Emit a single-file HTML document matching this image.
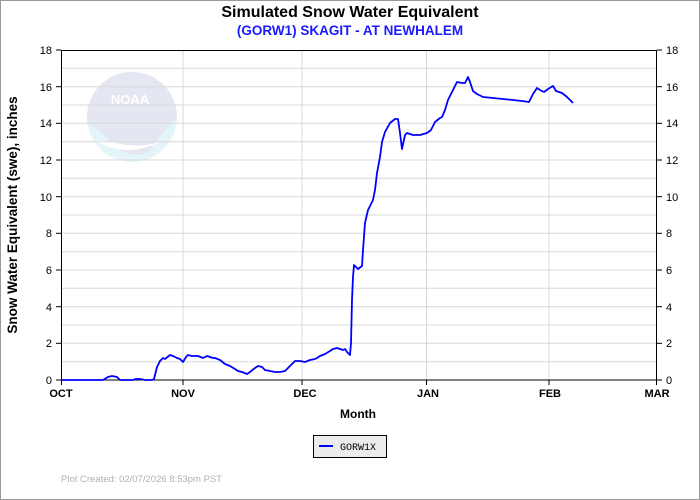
<!DOCTYPE html>
<html><head><style>
body{margin:0;background:#fff;}
svg{display:block;font-family:"Liberation Sans",Arial,sans-serif;}
</style></head><body>
<svg width="700" height="500" viewBox="0 0 700 500">
<rect x="0" y="0" width="700" height="500" fill="#fff"/>
<rect x="0.5" y="0.5" width="699" height="499" fill="none" stroke="#999"/>
<text x="350" y="17" text-anchor="middle" font-size="16" font-weight="bold" fill="#000">Simulated Snow Water Equivalent</text>
<text x="350" y="35" text-anchor="middle" font-size="13.5" font-weight="bold" fill="#1a1aff">(GORW1) SKAGIT - AT NEWHALEM</text>
<!-- logo -->
<clipPath id="c"><circle cx="132" cy="117" r="45"/></clipPath>
<g clip-path="url(#c)">
<rect x="80" y="70" width="110" height="100" fill="#e4f5fa"/>
<path d="M80,70 H190 V110 Q170,120 150,150 Q140,160 120,150 Q100,130 80,118 Z" fill="#e4e6f1"/>
<path d="M95,140 Q125,160 165,140 Q140,150 112,142 Z" fill="#fff"/>
</g>
<text x="130" y="104" text-anchor="middle" font-size="13" font-weight="bold" fill="#fff">NOAA</text>
<!-- grid -->
<g stroke="#d8d8d8" stroke-width="1">
<line x1="61" x2="657" y1="361.7" y2="361.7"/><line x1="61" x2="657" y1="343.3" y2="343.3"/><line x1="61" x2="657" y1="325" y2="325"/><line x1="61" x2="657" y1="306.7" y2="306.7"/><line x1="61" x2="657" y1="288.3" y2="288.3"/><line x1="61" x2="657" y1="270" y2="270"/><line x1="61" x2="657" y1="251.7" y2="251.7"/><line x1="61" x2="657" y1="233.3" y2="233.3"/><line x1="61" x2="657" y1="215" y2="215"/><line x1="61" x2="657" y1="196.7" y2="196.7"/><line x1="61" x2="657" y1="178.3" y2="178.3"/><line x1="61" x2="657" y1="160" y2="160"/><line x1="61" x2="657" y1="141.7" y2="141.7"/><line x1="61" x2="657" y1="123.3" y2="123.3"/><line x1="61" x2="657" y1="105" y2="105"/><line x1="61" x2="657" y1="86.7" y2="86.7"/><line x1="61" x2="657" y1="68.3" y2="68.3"/>
<line x1="183" x2="183" y1="50" y2="380"/><line x1="302" x2="302" y1="50" y2="380"/><line x1="426.5" x2="426.5" y1="50" y2="380"/><line x1="549" x2="549" y1="50" y2="380"/>
</g>
<rect x="61.5" y="50.5" width="595" height="329.5" fill="none" stroke="#000"/>
<!-- ticks -->
<g stroke="#000">
<line x1="56" x2="61" y1="380" y2="380"/><line x1="56" x2="61" y1="343.3" y2="343.3"/><line x1="56" x2="61" y1="306.7" y2="306.7"/><line x1="56" x2="61" y1="270" y2="270"/><line x1="56" x2="61" y1="233.3" y2="233.3"/><line x1="56" x2="61" y1="196.7" y2="196.7"/><line x1="56" x2="61" y1="160" y2="160"/><line x1="56" x2="61" y1="123.3" y2="123.3"/><line x1="56" x2="61" y1="86.7" y2="86.7"/><line x1="56" x2="61" y1="50" y2="50"/>
<line x1="657" x2="662" y1="380" y2="380"/><line x1="657" x2="662" y1="343.3" y2="343.3"/><line x1="657" x2="662" y1="306.7" y2="306.7"/><line x1="657" x2="662" y1="270" y2="270"/><line x1="657" x2="662" y1="233.3" y2="233.3"/><line x1="657" x2="662" y1="196.7" y2="196.7"/><line x1="657" x2="662" y1="160" y2="160"/><line x1="657" x2="662" y1="123.3" y2="123.3"/><line x1="657" x2="662" y1="86.7" y2="86.7"/><line x1="657" x2="662" y1="50" y2="50"/>
<line x1="61.5" x2="61.5" y1="380" y2="385"/><line x1="183" x2="183" y1="380" y2="385"/><line x1="302" x2="302" y1="380" y2="385"/><line x1="426.5" x2="426.5" y1="380" y2="385"/><line x1="549" x2="549" y1="380" y2="385"/><line x1="656.5" x2="656.5" y1="380" y2="385"/>
</g>
<g font-size="11" fill="#000" text-anchor="end">
<text x="52" y="384">0</text><text x="52" y="347">2</text><text x="52" y="311">4</text><text x="52" y="274">6</text><text x="52" y="237">8</text><text x="52" y="201">10</text><text x="52" y="164">12</text><text x="52" y="127">14</text><text x="52" y="91">16</text><text x="52" y="54">18</text>
</g>
<g font-size="11" fill="#000" text-anchor="start">
<text x="666" y="384">0</text><text x="666" y="347">2</text><text x="666" y="311">4</text><text x="666" y="274">6</text><text x="666" y="237">8</text><text x="666" y="201">10</text><text x="666" y="164">12</text><text x="666" y="127">14</text><text x="666" y="91">16</text><text x="666" y="54">18</text>
</g>
<g font-size="11" font-weight="bold" fill="#000" text-anchor="middle">
<text x="61" y="397">OCT</text><text x="183" y="397">NOV</text><text x="305" y="397">DEC</text><text x="428" y="397">JAN</text><text x="550" y="397">FEB</text><text x="657" y="397">MAR</text>
</g>
<text x="358" y="418" text-anchor="middle" font-size="12" font-weight="bold">Month</text>
<text transform="translate(17,215) rotate(-90)" text-anchor="middle" font-size="13.5" font-weight="bold">Snow Water Equivalent (swe),  inches</text>
<polyline fill="none" stroke="#0000ff" stroke-width="1.8" stroke-linejoin="round" points="61,380 103,380 108,377 112,376 117,377 120,380 133,380 135,379 140,379 145,380 152,380 154,379 157,367 160,361 163,358 165,359 170,355 173,356 177,358 180,359 183,362 186,357 188,355 192,356 198,356 203,358 207,356 210,357 213,358 215,358 220,360 225,364 230,366 235,369 238,371 242,372 247,374 250,372 255,368 258,366 262,367 265,370 270,371 275,372 280,372 285,371 288,368 290,366 295,361 300,361 305,362 310,360 315,359 317,358 320,356 325,354 330,351 333,349 337,348 340,349 343,350 345,349 347,352 350,355 351,343 352,300 353,277 354,265 358,269 362,266 363,250 365,223 368,210 373,200 375,190 377,173 380,157 382,142 385,132 390,123 395,119 398,119 400,133 402,149 405,135 407,133 413,135 420,135 427,133 431,130 435,122 440,118 442,117 445,110 448,100 452,92 457,82 462,83 465,83 468,77 470,82 473,91 477,94 483,97 493,98 503,99 513,100 522,101 529,102 533,94 537,88 540,90 544,92 548,89 553,86 556,91 562,93 567,97 573,103"/>
<!-- legend -->
<rect x="313.5" y="435.5" width="73" height="22" fill="#ececec" stroke="#000"/>
<line x1="319" x2="333" y1="446" y2="446" stroke="#0000ff" stroke-width="2"/>
<text x="340" y="450" font-size="10" font-family="Liberation Mono,monospace">GORW1X</text>
<text x="61" y="482" font-size="9.5" fill="#b0b0b0">Plot Created: 02/07/2026 8:53pm PST</text>
</svg>
</body></html>
